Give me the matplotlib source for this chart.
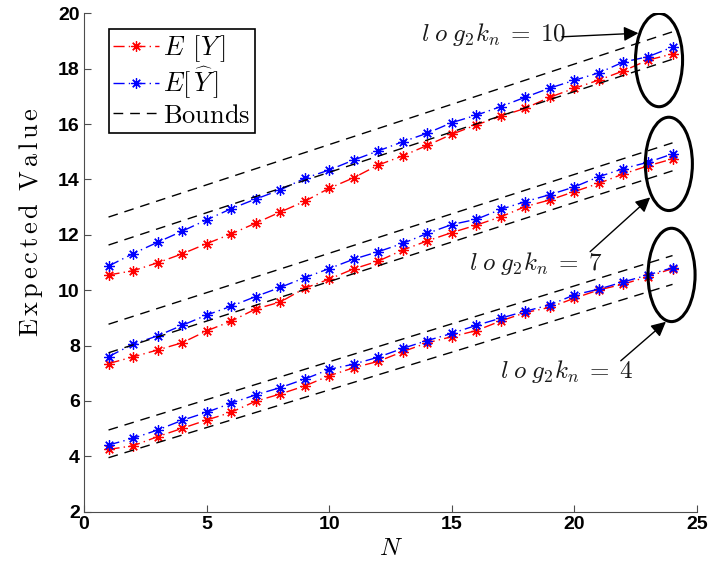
import numpy as np
import matplotlib
matplotlib.use("Agg")
import matplotlib.pyplot as plt
from matplotlib.patches import Ellipse

plt.rcParams['mathtext.fontset'] = 'cm'

# ---------------------------------------------------------------
# Data
# ---------------------------------------------------------------
N = list(range(1, 25))

# log2 kn = 10
ey_10 = [10.55, 10.70, 10.99, 11.31, 11.68, 12.03, 12.42, 12.82, 13.21, 13.68,
         14.06, 14.52, 14.85, 15.23, 15.63, 15.97, 16.28, 16.57, 16.97, 17.29,
         17.59, 17.92, 18.31, 18.53]
eyh_10 = [10.87, 11.32, 11.73, 12.13, 12.54, 12.94, 13.29, 13.62, 14.04, 14.34,
          14.70, 15.03, 15.36, 15.67, 16.05, 16.32, 16.63, 16.97, 17.30, 17.58,
          17.85, 18.24, 18.43, 18.78]

# log2 kn = 7
ey_7 = [7.35, 7.59, 7.84, 8.10, 8.53, 8.88, 9.32, 9.57, 10.07, 10.40,
        10.77, 11.05, 11.45, 11.78, 12.08, 12.35, 12.65, 13.02, 13.26, 13.56,
        13.86, 14.20, 14.49, 14.74]
eyh_7 = [7.60, 8.05, 8.35, 8.73, 9.10, 9.42, 9.77, 10.10, 10.45, 10.78,
         11.12, 11.39, 11.69, 12.05, 12.37, 12.56, 12.92, 13.20, 13.45, 13.73,
         14.10, 14.39, 14.62, 14.92]

# log2 kn = 4
ey_4 = [4.25, 4.38, 4.71, 5.01, 5.31, 5.59, 5.99, 6.25, 6.54, 6.91,
        7.20, 7.43, 7.78, 8.10, 8.32, 8.54, 8.89, 9.19, 9.38, 9.71,
        10.01, 10.22, 10.49, 10.78]
eyh_4 = [4.41, 4.65, 4.95, 5.30, 5.59, 5.92, 6.22, 6.48, 6.79, 7.14,
         7.33, 7.58, 7.90, 8.18, 8.44, 8.73, 8.99, 9.24, 9.47, 9.83,
         10.04, 10.30, 10.55, 10.81]

# bounds (straight lines, values at N=1 and N=24)
bound_N = [1, 24]
bounds = [
    [12.64, 19.33], [11.63, 18.34],
    [8.77, 15.32], [7.74, 14.31],
    [4.95, 11.25], [3.95, 10.21],
]

labels = [r'$l\;o\;g_2k_n\;=\;10$', r'$l\;o\;g_2k_n\;=\;7$', r'$l\;o\;g_2k_n\;=\;4$']

# ---------------------------------------------------------------
# Figure
# ---------------------------------------------------------------
fig = plt.figure(figsize=(7.12, 5.69), dpi=100)
ax = fig.add_axes([0.118, 0.1007, 0.861, 0.876])

mk = dict(marker=(8, 2, 0), markersize=7.5, markeredgewidth=0.9,
          linewidth=1.0, dashes=(8, 3, 1, 3))

first = True
for ey, eyh in [(ey_10, eyh_10), (ey_7, eyh_7), (ey_4, eyh_4)]:
    ax.plot(N, ey, color='red', label=r'$E\;\,[Y\,]$' if first else None, **mk)
    ax.plot(N, eyh, color='blue', label=r'$E[\,\widehat{Y}\,]$' if first else None, **mk)
    first = False

for i, b in enumerate(bounds):
    ax.plot(bound_N, b, color='black', linewidth=1.0, dashes=(7, 5),
            label=r'$\mathrm{Bounds}$' if i == 0 else None)

###
### Ellipses + arrows
###
for xc, yc in [(23.45, 18.31), (23.85, 14.56), (23.96, 10.55)]:
    ax.add_patch(Ellipse((xc, yc), 1.92, 3.37, fill=False,
                         edgecolor='black', linewidth=2.2, zorder=5))

texts = [(16.72, 19.22), (18.44, 10.98), (19.70, 7.05)]
arrows = [((19.49, 19.15), (22.61, 19.28)),
          ((20.64, 11.39), (23.09, 13.35)),
          ((21.89, 7.45), (23.73, 8.86))]
for lab, (tx, ty), (s, e) in zip(labels, texts, arrows):
    ax.text(tx, ty, lab, fontsize=18, ha='center', va='center', color='0.1')
    ax.annotate('', xy=e, xytext=s,
                arrowprops=dict(arrowstyle='-|>', color='black', lw=1.0,
                                mutation_scale=22, shrinkA=0, shrinkB=0))

###
### Axes formatting
###
ax.set_xlim(0, 25)
ax.set_ylim(2, 20)
ax.set_xticks(range(0, 26, 5))
ax.set_yticks(range(2, 21, 2))
for sp in ['top', 'right']:
    ax.spines[sp].set_visible(False)
for sp in ['left', 'bottom']:
    ax.spines[sp].set_color('0.3')
ax.tick_params(direction='in', length=5, color='0.3', pad=3)
for t in ax.get_xticklabels() + ax.get_yticklabels():
    t.set_fontfamily('Liberation Sans')
    t.set_fontweight('bold')
    t.set_fontsize(14)

ax.set_xlabel(r'$N$', fontsize=18, labelpad=2)
ax.set_ylabel(r'$\mathrm{E\,x\,p\,e\,c\,t\,e\,d\;\;V\,a\,l\,u\,e}$', fontsize=19)
ax.yaxis.set_label_coords(-0.064, 0.581)

leg = ax.legend(loc='upper left', bbox_to_anchor=(0.041, 0.968), borderaxespad=0,
                fontsize=19, fancybox=False, framealpha=1, edgecolor='black',
                handlelength=1.75, handletextpad=0.15, borderpad=0.15, labelspacing=0.05)
leg.get_frame().set_linewidth(1.2)

plt.savefig('out.png', dpi=100)
